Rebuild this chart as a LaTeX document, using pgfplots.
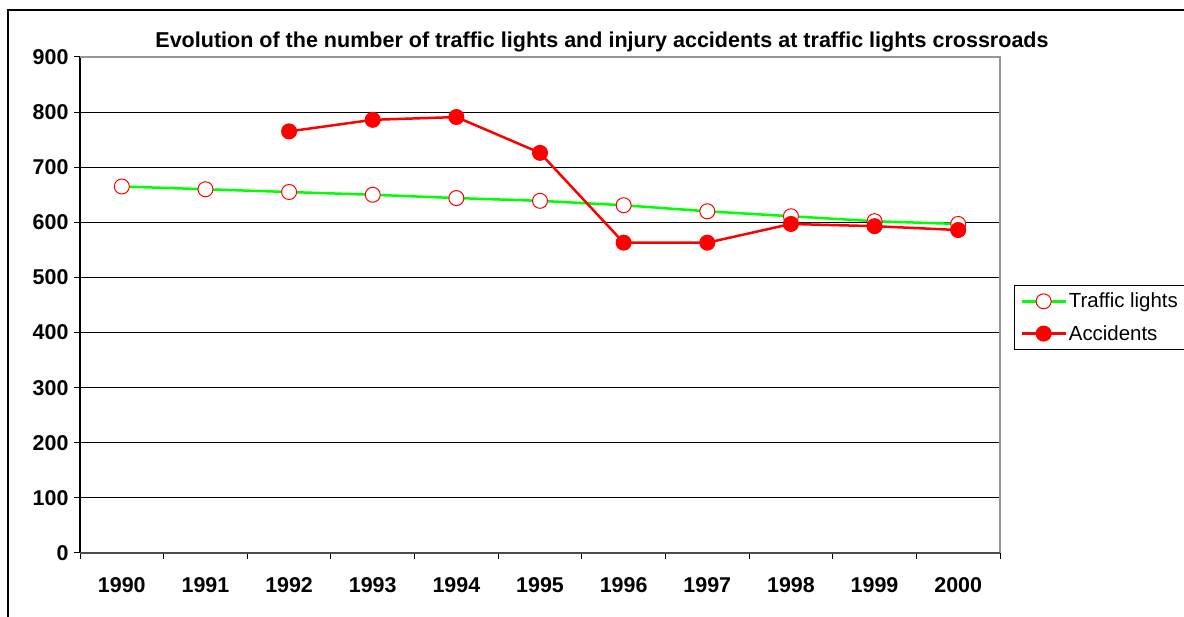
\documentclass[border=0pt]{standalone}
\usepackage{pgfplots}
\pgfplotsset{compat=1.18}
\usepackage{fontspec}
\setmainfont{Liberation Sans}
\definecolor{pgreen}{RGB}{0,255,0}
\definecolor{pred}{RGB}{255,0,0}
\definecolor{bgray}{RGB}{150,150,150}
\begin{document}
\begin{tikzpicture}[x=1bp,y=1bp]
\useasboundingbox (0,0) rectangle (1184,617);
\draw[line width=1.2bp] (8,0) -- (8,607) -- (1184,607);
\node[font=\fontsize{21.6}{26}\selectfont\bfseries] at (602,575) {Evolution of the number of traffic lights and injury accidents at traffic lights crossroads};
\begin{axis}[
  at={(80bp,64bp)}, anchor=south west,
  scale only axis, width=920bp, height=496bp,
  xmin=-0.5, xmax=10.5, ymin=0, ymax=900,
  axis line style={draw=none},
  ymajorgrids, grid style={black, line width=0.8bp},
  ytick={0,100,...,900},
  xtick={0,...,10},
  xticklabels={1990,1991,1992,1993,1994,1995,1996,1997,1998,1999,2000},
  minor xtick={-0.5,0.5,...,10.5},
  major x tick style={draw=none},
  minor x tick style={black, line width=1bp},
  y tick style={black, line width=1bp},
  minor tick length=6bp, major tick length=6bp,
  tick align=outside, xtick pos=bottom, ytick pos=left,
  ticklabel style={font=\fontsize{21.5}{25}\selectfont\bfseries},
  /pgf/number format/assume math mode=true,
  yticklabel style={xshift=-2bp},
  xticklabel style={yshift=-15bp},
  legend style={at={(rel axis cs:1.0152,0.409)}, anchor=south west,
    draw=black, line width=0.8bp, font=\fontsize{20.5}{24}\selectfont,
    row sep=12bp, inner xsep=6bp, inner ysep=6bp},
  legend cell align=left,
  legend image code/.code={\draw[mark repeat=2,mark phase=2] plot coordinates {(0bp,0bp) (22bp,0bp) (44bp,0bp)};},
  clip=false,
]
\draw[black, line width=1.2bp] (rel axis cs:0,0) -- (rel axis cs:0,1);
\draw[bgray, line width=1.2bp] (rel axis cs:0,1) -- (rel axis cs:1,1) -- (rel axis cs:1,0);
\draw[black!70, line width=1.5bp] (rel axis cs:0,0) -- (rel axis cs:1,0);
\addplot[pgreen, line width=2.5bp, mark=*, mark size=7.5bp, mark options={fill=white, draw=pred, line width=1bp}]
  coordinates {(0,665) (1,660) (2,655) (3,650) (4,644) (5,639) (6,631) (7,620) (8,611) (9,602) (10,597)};
\addlegendentry{Traffic lights}
\addplot[pred, line width=2.5bp, mark=*, mark size=7.5bp, mark options={fill=pred, draw=pred, line width=1bp}]
  coordinates {(2,765) (3,786) (4,791) (5,726) (6,563) (7,563) (8,597) (9,593) (10,586)};
\addlegendentry{Accidents}
\end{axis}
\end{tikzpicture}
\end{document}
